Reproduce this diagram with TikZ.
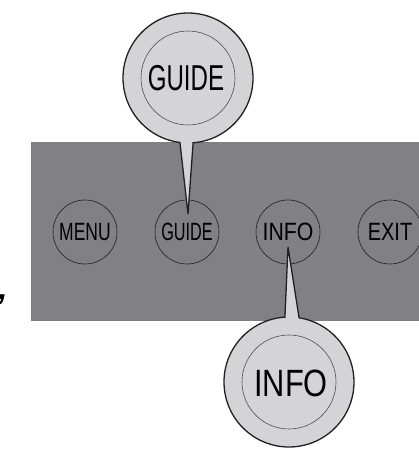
\documentclass[tikz,border=0pt]{standalone}
\usepackage{fontspec}
\setmainfont{Liberation Sans}
\definecolor{panel}{HTML}{808085}
\definecolor{bubble}{HTML}{D4D4D6}
\definecolor{ink}{HTML}{231F20}
\tikzset{
 button/.style={circle,draw=ink,line width=0.6pt,minimum size=64pt,inner sep=0pt},
 ring/.style={circle,draw=ink!80,line width=0.6pt,minimum size=94pt,inner sep=0pt},
 bubbleline/.style={fill=bubble,draw=ink,line width=1.3pt},
 btntext/.style={inner sep=0pt,font=\fontsize{25}{25}\selectfont},
 bigtext/.style={inner sep=0pt,font=\fontsize{36}{36}\selectfont}
}
\begin{document}
\begin{tikzpicture}[x=1pt,y=1pt]
 \clip (0,0) rectangle (419,451);
 \fill[panel] (31,130) rectangle (430,309);
 \node[button] (menu) at (85,219) {};
 \node[button] (guide) at (187,219) {};
 \node[button] (info) at (288,219) {};
 \node[button] (exit) at (390,219) {};
 \node[btntext,xscale=0.70] (menutext) at (menu) {MENU};
 \node[btntext,xscale=0.65] (guidetext) at (guide) {GUIDE};
 \node[btntext,xscale=0.85] (infotext) at (info) {INFO};
 \node[btntext,xscale=0.80] (exittext) at (exit) {EXIT};
 \coordinate (gtip) at (188,237);
 \coordinate (gc) at (188,373);
 \draw[bubbleline] (gtip) -- ([shift={(274.5:65)}]gc) arc[start angle=274.5,end angle=622.9,radius=65] -- cycle;
 \node[ring] (gring) at (gc) {};
 \node[bigtext,xscale=0.67] (gbigtext) at (186,373) {GUIDE};
 \coordinate (itip) at (288,204);
 \coordinate (ic) at (289,69);
 \draw[bubbleline] (itip) -- ([shift={(93.6:65)}]ic) arc[start angle=93.6,end angle=441.1,radius=65] -- cycle;
 \node[ring] (iring) at (ic) {};
 \node[bigtext,font=\fontsize{38}{38}\selectfont,xscale=0.81] (ibigtext) at (291,68) {INFO};
 \node[inner sep=0pt,anchor=base,font=\fontsize{32}{32}\selectfont\bfseries\itshape] (comma) at (3,151) {,};
\end{tikzpicture}
\end{document}
